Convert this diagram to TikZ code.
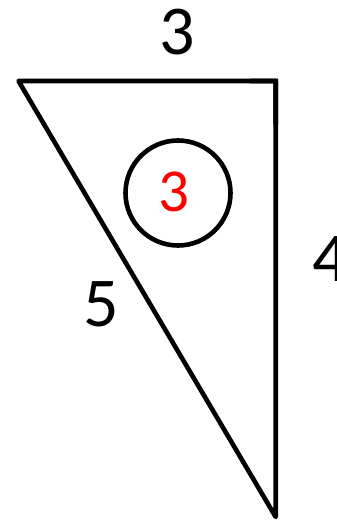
\documentclass[tikz,border=0pt]{standalone}
\usepackage{fontspec}
\setmainfont{Carlito}
\usetikzlibrary{calc}
\begin{document}
\begin{tikzpicture}[x=1pt,y=1pt,
  edge/.style={line width=4.6pt,line join=round,line cap=round},
  big/.style={font=\fontsize{70}{80}\selectfont,inner sep=0pt},
  mid/.style={font=\fontsize{61}{70}\selectfont,inner sep=0pt}]
\useasboundingbox (0,0) rectangle (337,520);
\coordinate (A) at (18.5,439);
\coordinate (B) at (275.7,439);
\coordinate (C) at (275.7,3);
\draw[edge] (A) -- (B) -- (C) -- cycle;
\draw[edge,line join=miter,line cap=butt] ($(A)!0.9!(B)$) -- (B) -- ($(B)!0.1!(C)$);
\node[draw,circle,line width=4.6pt,minimum size=105pt,inner sep=0pt] (circ) at (178,327) {};
\node[mid,text=red] (r) at (174,328.3) {3};
\node[big] (t) at (177,487.5) {3};
\node[big] (f) at (101,216) {5};
\node[big] (v) at (330,261) {4};
\end{tikzpicture}
\end{document}
